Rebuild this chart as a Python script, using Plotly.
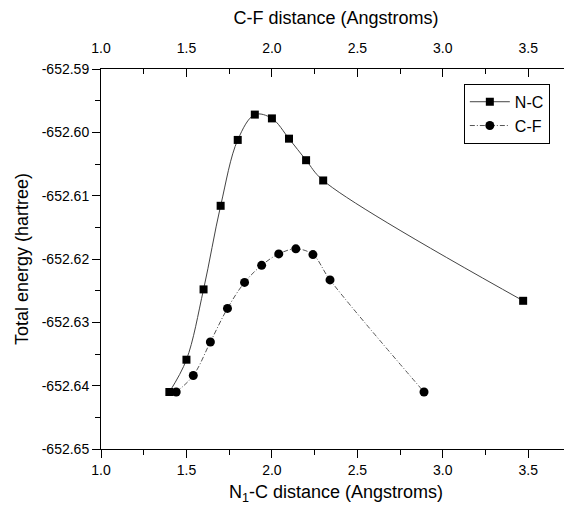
import plotly.graph_objects as go

# N-C scan (bottom axis)
nc_x = [1.40, 1.50, 1.60, 1.70, 1.80, 1.90, 2.00, 2.10, 2.20, 2.30, 3.47]
nc_e = [-652.6410, -652.6359, -652.6248, -652.6116, -652.6012, -652.5972,
        -652.5978, -652.6010, -652.6044, -652.6076, -652.6266]

# C-F scan (top axis)
cf_x = [1.44, 1.54, 1.64, 1.74, 1.84, 1.94, 2.04, 2.14, 2.24, 2.34, 2.89]
cf_e = [-652.6410, -652.6384, -652.6331, -652.6278, -652.6237, -652.6210,
        -652.6192, -652.6184, -652.6193, -652.6233, -652.6410]

x_ticks = [1.0, 1.5, 2.0, 2.5, 3.0, 3.5]
y_ticks = [-652.59, -652.60, -652.61, -652.62, -652.63, -652.64, -652.65]

FONT = "Liberation Sans, Arial, sans-serif"

fig = go.Figure()
fig.add_trace(go.Scatter(
    x=nc_x, y=nc_e, name="N-C", mode="lines+markers",
    line=dict(color="#444444", width=1, shape="spline", smoothing=1.0),
    marker=dict(symbol="square", size=8, color="black"),
    xaxis="x", yaxis="y"))
fig.add_trace(go.Scatter(
    x=cf_x, y=cf_e, name="C-F", mode="lines+markers",
    line=dict(color="#555555", width=1, shape="spline", smoothing=1.0,
              dash="5px,2px,1px,2px"),
    marker=dict(symbol="circle", size=9, color="black"),
    xaxis="x2", yaxis="y"))

xr = [1.0, 3.75]
# page body has an 8px default margin: figure is 564x498, placed at (8, 8)
fig.update_layout(
    width=564, height=498,
    margin=dict(l=93, r=1, t=61, b=57),
    paper_bgcolor="white", plot_bgcolor="white",
    font=dict(family=FONT, size=14, color="black"),
    showlegend=True,
    legend=dict(x=0.772, y=0.961, xanchor="left", yanchor="top",
                bgcolor="white", bordercolor="black", borderwidth=1,
                font=dict(size=16, family=FONT), tracegroupgap=0,
                itemwidth=40),
    xaxis=dict(range=xr, tickvals=x_ticks, ticktext=[f"{v:.1f}" for v in x_ticks],
               ticks="outside", ticklen=8, tickwidth=1, tickcolor="black",
               minor=dict(dtick=0.25, tick0=1.0, ticks="outside", ticklen=5,
                          tickcolor="black", showgrid=False),
               showline=True, linecolor="black", linewidth=1, mirror=True,
               showgrid=False, zeroline=False, automargin=False,
               tickfont=dict(size=14),
               title=dict(text="N<sub>1</sub>-C distance (Angstroms)",
                          font=dict(size=18), standoff=8)),
    xaxis2=dict(range=xr, overlaying="x", side="top", anchor="y",
                tickvals=x_ticks, ticktext=[f"{v:.1f}" for v in x_ticks],
                ticks="inside", ticklen=8, tickwidth=1, tickcolor="black",
                minor=dict(dtick=0.25, tick0=1.0, ticks="inside", ticklen=5,
                           tickcolor="black", showgrid=False),
                showline=True, linecolor="black", linewidth=1,
                showgrid=False, zeroline=False, automargin=False,
                tickfont=dict(size=14), ticklabelstandoff=9,
                title=dict(text="C-F distance (Angstroms)",
                           font=dict(size=18), standoff=12)),
    yaxis=dict(range=[-652.65, -652.59], tickvals=y_ticks,
               ticktext=[f"{v:.2f}" for v in y_ticks],
               ticks="outside", ticklen=8, tickwidth=1, tickcolor="black",
               minor=dict(dtick=0.005, tick0=-652.65, ticks="outside", ticklen=5,
                          tickcolor="black", showgrid=False),
               showline=True, linecolor="black", linewidth=1, mirror=True,
               showgrid=False, zeroline=False, automargin=False,
               tickfont=dict(size=14),
               title=dict(text="Total energy (hartree)",
                          font=dict(size=18), standoff=8)),
)

fig.write_html("out.html")
